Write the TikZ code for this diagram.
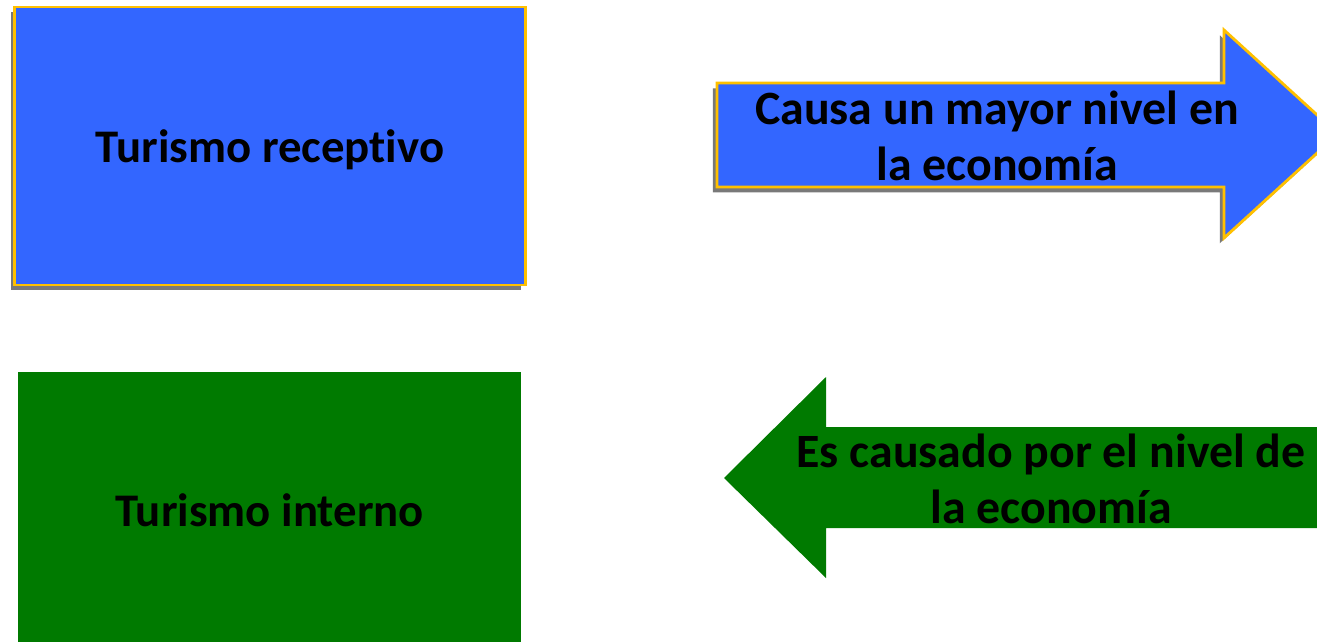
\documentclass[tikz,border=0pt]{standalone}
\usepackage{fontspec}
\setmainfont{Carlito}[Ligatures=NoCommon]
\usetikzlibrary{shadows}
\definecolor{turblue}{RGB}{51,102,255}
\definecolor{turgreen}{RGB}{0,122,0}
\definecolor{rimgold}{RGB}{255,192,0}

\begin{document}
\begin{tikzpicture}[x=0.01cm,y=-0.01cm,
    txt/.style = {font=\fontsize{13.3}{16}\selectfont\bfseries,
      align=center, text=black},
    arrtxt/.style = {txt, font=\fontsize{13.6}{16}\selectfont\bfseries},
    blueshape/.style = {fill=turblue, draw=rimgold, line width=.8pt,
      drop shadow={shadow xshift=-1.2pt, shadow yshift=-1.5pt,
        opacity=.75, fill=black!70}},
    greenshape/.style = {fill=turgreen}]
  \useasboundingbox (0,0) rectangle (1317,642);
  \clip (0,0) rectangle (1317,642);
  % boxes
  \node[blueshape, txt, minimum width=5.1cm, minimum height=2.78cm,
    text height=12.3pt, text depth=2.8pt]
    (recep) at (270,146) {Turismo receptivo};
  \node[greenshape, txt, minimum width=5.03cm, minimum height=2.76cm]
    (interno) at (269.5,510) {Turismo interno};
  % arrows
  \path[blueshape] (717,83) -- (1224,83) -- (1224,30) -- (1338,134)
    -- (1224,238) -- (1224,187) -- (717,187) -- cycle;
  \path[greenshape] (1345,427) -- (826,427) -- (826,377) -- (724,478)
    -- (826,578) -- (826,528) -- (1345,528) -- cycle;
  %\draw[red] (997,0) -- (997,642);
  \node[arrtxt] (causa) at (997,136) {Causa un mayor nivel en\\la economía};
  \node[arrtxt] (causado) at (1051,479) {Es causado por el nivel de\\la economía};
\end{tikzpicture}
\end{document}
